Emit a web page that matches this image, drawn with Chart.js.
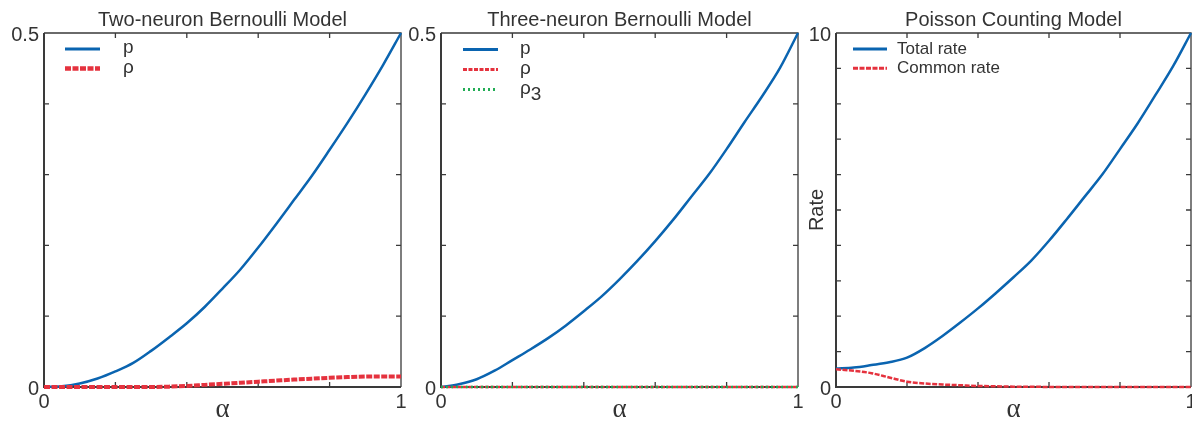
<!DOCTYPE html>
<html>
<head>
<meta charset="utf-8">
<script src="https://cdn.jsdelivr.net/npm/chart.js@4.4.1/dist/chart.umd.min.js"></script>
<style>
    html, body { margin: 0; padding: 0; background: #fff; overflow: hidden; width: 1192px; height: 422px; }
    .panel { position: absolute; top: 0; height: 422px; }
</style>
</head>
<body>
<div class="panel" style="left:0;width:420px"><canvas id="twoNeuronChart"></canvas></div>
<div class="panel" style="left:400px;width:420px"><canvas id="threeNeuronChart"></canvas></div>
<div class="panel" style="left:780px;width:430px"><canvas id="poissonChart"></canvas></div>
<script>
/* ============ DATOS ============ */

const alpha = [0, 0.05, 0.1, 0.15, 0.2, 0.25, 0.3, 0.35, 0.4, 0.45, 0.5,
               0.55, 0.6, 0.65, 0.7, 0.75, 0.8, 0.85, 0.9, 0.95, 1];

const twoP = [0, 0.001, 0.005, 0.012, 0.022, 0.034, 0.051, 0.07, 0.09, 0.113, 0.139,
              0.166, 0.197, 0.23, 0.264, 0.298, 0.335, 0.373, 0.413, 0.455, 0.5];
const twoRho = [0, 0, 0, 0, 0, 0, 0, 0.0005, 0.0015, 0.003, 0.0045,
                0.006, 0.0075, 0.009, 0.0105, 0.0118, 0.013, 0.014, 0.0148, 0.015, 0.015];

const threeP = [0, 0.004, 0.011, 0.023, 0.038, 0.053, 0.069, 0.087, 0.107, 0.128, 0.152,
                0.178, 0.206, 0.236, 0.268, 0.3, 0.336, 0.374, 0.411, 0.451, 0.5];
const threeRho = [0, 0, 0, 0, 0, 0, 0, 0, 0, 0, 0, 0, 0, 0, 0, 0, 0, 0, 0, 0, 0];
const threeRho3 = [0, 0, 0, 0, 0, 0, 0, 0, 0, 0, 0, 0, 0, 0, 0, 0, 0, 0, 0, 0, 0];

const totalRate = [0.52, 0.55, 0.62, 0.7, 0.83, 1.1, 1.44, 1.82, 2.22, 2.65, 3.1,
                   3.57, 4.13, 4.74, 5.37, 6.0, 6.72, 7.45, 8.25, 9.07, 10];
const commonRate = [0.5, 0.46, 0.39, 0.27, 0.15, 0.1, 0.07, 0.05, 0.03, 0.02, 0.01,
                    0.01, 0, 0, 0, 0, 0, 0, 0, 0, 0];

const xTickLabels = ["0", "1"];
const bernoulliTickLabels = ["0", "0.5"];
const poissonTickLabels = ["0", "10"];

/* ============ ESTILOS ============ */

const FONT = '"Liberation Sans", Arial, sans-serif';
const TEXT = "#333333";
const AXIS = "#3a3a3a";
const BLUE = "#0a64b0";
const RED = "#e5323e";
const GREEN = "#22ad55";

Chart.defaults.font.family = FONT;
Chart.defaults.color = TEXT;

const toPoints = ys => alpha.map((a, i) => ({ x: a, y: ys[i] }));

function linea(label, ys, color, width, dash, order) {
    return {
        label: label,
        data: toPoints(ys),
        borderColor: color,
        borderWidth: width,
        borderDash: dash,
        pointRadius: 0,
        cubicInterpolationMode: "monotone",
        clip: false,
        order: order
    };
}

/* marco con marcas hacia adentro en los cuatro lados */
const framePlugin = {
    id: "frame",
    beforeDatasetsDraw(chart) {
        const { ctx, chartArea: a, scales: { x, y } } = chart;
        ctx.save();
        ctx.strokeStyle = AXIS;
        ctx.lineWidth = 1.3;
        ctx.beginPath();
        ctx.moveTo(a.left, a.top);
        ctx.lineTo(a.right, a.top);
        ctx.lineTo(a.right, a.bottom);
        x.ticks.forEach(t => {
            const px = x.getPixelForValue(t.value);
            ctx.moveTo(px, a.bottom); ctx.lineTo(px, a.bottom - 5);
            ctx.moveTo(px, a.top); ctx.lineTo(px, a.top + 5);
        });
        y.ticks.forEach(t => {
            const py = y.getPixelForValue(t.value);
            ctx.moveTo(a.left, py); ctx.lineTo(a.left + 5, py);
            ctx.moveTo(a.right, py); ctx.lineTo(a.right - 5, py);
        });
        ctx.stroke();
        ctx.lineWidth = 2;
        ctx.beginPath();
        ctx.moveTo(a.left, a.top);
        ctx.lineTo(a.left, a.bottom);
        ctx.lineTo(a.right, a.bottom);
        ctx.stroke();
        ctx.restore();
    }
};

/* leyenda dentro del area del grafico */
const panelLegendPlugin = {
    id: "panelLegend",
    afterDatasetsDraw(chart, args, opts) {
        const { ctx, chartArea: a } = chart;
        chart.data.datasets.forEach((ds, i) => {
            const y = a.top + opts.top + i * opts.rowGap;
            const x0 = a.left + opts.left;
            ctx.save();
            ctx.strokeStyle = ds.borderColor;
            ctx.lineWidth = ds.borderWidth + 0.5;
            ctx.setLineDash(ds.borderDash || []);
            ctx.beginPath();
            ctx.moveTo(x0, y);
            ctx.lineTo(x0 + opts.lineLength, y);
            ctx.stroke();
            ctx.setLineDash([]);
            ctx.fillStyle = TEXT;
            ctx.font = opts.fontSize + "px " + FONT;
            ctx.textBaseline = "alphabetic";
            const tx = x0 + opts.lineLength + opts.textGap;
            ctx.fillText(ds.label, tx, y + opts.baseline);
            if (ds.legendSub) {
                const w = ctx.measureText(ds.label).width;
                ctx.fillText(ds.legendSub, tx + w, y + opts.baseline + 6);
            }
            ctx.restore();
        });
    }
};

function buildOptions(cfg) {
    return {
        responsive: true,
        maintainAspectRatio: false,
        animation: false,
        events: [],
        layout: { padding: { left: 0, right: cfg.padRight, top: 0, bottom: 0 } },
        plugins: {
            legend: { display: false },
            tooltip: { enabled: false },
            title: {
                display: true,
                text: cfg.title,
                fullSize: false,
                color: TEXT,
                font: { size: 20, weight: "normal", lineHeight: 1.2 },
                padding: { top: 8, bottom: 1 }
            },
            panelLegend: cfg.legend
        },
        scales: {
            x: {
                type: "linear",
                min: 0,
                max: 1,
                grid: { display: false, drawTicks: false },
                border: { display: false },
                ticks: {
                    stepSize: 0.2,
                    autoSkip: false,
                    maxRotation: 0,
                    padding: 3,
                    color: TEXT,
                    font: { size: 20 },
                    callback: v => xTickLabels.includes(String(v)) ? String(v) : ""
                },
                title: {
                    display: true,
                    text: "α",
                    color: TEXT,
                    font: { family: '"Liberation Serif", serif', size: 27, lineHeight: 1.2 },
                    padding: { top: 0, bottom: -4 }
                },
                afterFit: s => { s.height = 35; }
            },
            y: {
                type: "linear",
                min: 0,
                max: cfg.yMax,
                grid: { display: false, drawTicks: false },
                border: { display: false },
                ticks: {
                    stepSize: cfg.yStep,
                    autoSkip: false,
                    padding: 5,
                    labelOffset: 2,
                    color: TEXT,
                    font: { size: 20 },
                    callback: v => cfg.yLabels.includes(String(v)) ? String(v) : ""
                },
                title: cfg.yTitle,
                afterFit: s => { s.width = cfg.yWidth; }
            }
        }
    };
}

/* ============ GRAFICOS ============ */

function initCharts() {
    new Chart(document.getElementById("twoNeuronChart"), {
        type: "line",
        data: {
            datasets: [
                linea("p", twoP, BLUE, 2.5, [], 2),
                linea("ρ", twoRho, RED, 4, [6, 1.5], 1)
            ]
        },
        options: buildOptions({
            title: "Two-neuron Bernoulli Model",
            padRight: 19,
            yMax: 0.5,
            yStep: 0.1,
            yLabels: bernoulliTickLabels,
            yWidth: 44,
            yTitle: { display: false },
            legend: { left: 21, top: 16, rowGap: 19.5, lineLength: 35, textGap: 23, fontSize: 19, baseline: 4 }
        }),
        plugins: [framePlugin, panelLegendPlugin]
    });

    const rho3 = linea("ρ", threeRho3, GREEN, 2.5, [2, 3], 1);
    rho3.legendSub = "3";
    new Chart(document.getElementById("threeNeuronChart"), {
        type: "line",
        data: {
            datasets: [
                linea("p", threeP, BLUE, 2.5, [], 3),
                linea("ρ", threeRho, RED, 2.5, [4, 1.5], 2),
                rho3
            ]
        },
        options: buildOptions({
            title: "Three-neuron Bernoulli Model",
            padRight: 22,
            yMax: 0.5,
            yStep: 0.1,
            yLabels: bernoulliTickLabels,
            yWidth: 41,
            yTitle: { display: false },
            legend: { left: 22, top: 16.5, rowGap: 20, lineLength: 35, textGap: 22, fontSize: 19, baseline: 4 }
        }),
        plugins: [framePlugin, panelLegendPlugin]
    });

    new Chart(document.getElementById("poissonChart"), {
        type: "line",
        data: {
            datasets: [
                linea("Total rate", totalRate, BLUE, 2.5, [], 2),
                linea("Common rate", commonRate, RED, 2.5, [5, 1.5], 1)
            ]
        },
        options: buildOptions({
            title: "Poisson Counting Model",
            padRight: 19,
            yMax: 10,
            yStep: 1,
            yLabels: poissonTickLabels,
            yWidth: 56,
            yTitle: {
                display: true,
                text: "Rate",
                color: TEXT,
                font: { size: 20, lineHeight: 1.2 },
                padding: { top: 25, bottom: 0 }
            },
            legend: { left: 17, top: 16, rowGap: 19.3, lineLength: 34, textGap: 10, fontSize: 17, baseline: 5 }
        }),
        plugins: [framePlugin, panelLegendPlugin]
    });
}

document.addEventListener("DOMContentLoaded", initCharts);
</script>
</body>
</html>
